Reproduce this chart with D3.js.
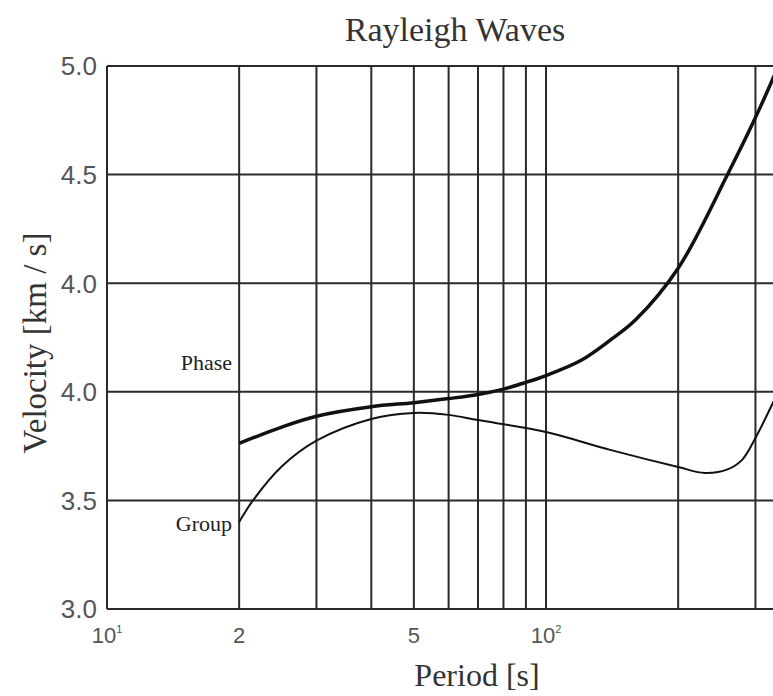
<!DOCTYPE html>
<html>
<head>
<meta charset="utf-8">
<script src="https://cdn.jsdelivr.net/npm/d3@7"></script>
<style>
  body { margin: 0; background: white; }
</style>
</head>
<body>
<div id="chart"></div>
<script>
// data
const phasePeriod = [20, 25, 30, 40, 50, 60, 70, 80, 90, 100, 120, 140, 160, 200, 260, 300, 330, 340];
const phaseVel    = [3.61, 3.67, 3.71, 3.745, 3.76, 3.775, 3.79, 3.81, 3.835, 3.86, 3.915, 3.99, 4.065, 4.255, 4.605, 4.81, 4.96, 5.01];

const groupPeriod = [20, 21.5, 25, 30, 40, 50, 60, 70, 100, 140, 200, 230, 260, 280, 300, 330];
const groupVel    = [3.32, 3.40, 3.525, 3.62, 3.70, 3.722, 3.715, 3.696, 3.652, 3.586, 3.523, 3.501, 3.515, 3.55, 3.63, 3.765];

const gridPeriods = [20, 30, 40, 50, 60, 70, 80, 90, 100, 200, 300];
const xTickValues = [10, 20, 50, 100];
const xTickLabels = [["10", "1"], ["2", ""], ["5", ""], ["10", "2"]];

const yTickValues = [3.0, 3.4, 3.8, 4.2, 4.6, 5.0];
const yTickLabels = ["3.0", "3.5", "4.0", "4.0", "4.5", "5.0"];

const W = 773, H = 696;
const plotL = 107, plotR = 773, plotT = 66, plotB = 609;

let svg = d3.select("#chart").append("svg")
    .attr("width", W)
    .attr("height", H);

const x = d3.scaleLog().domain([10, 100]).range([plotL, 546]);
const y = d3.scaleLinear().domain([3.0, 5.0]).range([plotB, plotT]);

const ink = "#2a2a2a";

// horizontal grid
svg.append("g").selectAll("line")
    .data(yTickValues)
    .enter().append("line")
    .attr("x1", plotL).attr("x2", plotR)
    .attr("y1", d => y(d)).attr("y2", d => y(d))
    .attr("stroke", ink)
    .attr("stroke-width", 2);

// vertical grid
svg.append("g").selectAll("line")
    .data(gridPeriods)
    .enter().append("line")
    .attr("x1", d => x(d)).attr("x2", d => x(d))
    .attr("y1", plotT).attr("y2", plotB)
    .attr("stroke", ink)
    .attr("stroke-width", 2);

// left axis line
svg.append("line")
    .attr("x1", plotL).attr("x2", plotL)
    .attr("y1", plotT).attr("y2", plotB)
    .attr("stroke", ink)
    .attr("stroke-width", 2);

// curves
svg.append("clipPath").attr("id", "plotClip")
    .append("rect")
    .attr("x", plotL).attr("y", plotT - 2)
    .attr("width", plotR - plotL + 10).attr("height", plotB - plotT + 4);

const line = d3.line()
    .x(d => x(d[0]))
    .y(d => y(d[1]))
    .curve(d3.curveCatmullRom.alpha(0.5));

svg.append("path")
    .attr("d", line(d3.zip(phasePeriod, phaseVel)))
    .attr("clip-path", "url(#plotClip)")
    .attr("fill", "none")
    .attr("stroke", "#111")
    .attr("stroke-width", 3.5);

svg.append("path")
    .attr("d", line(d3.zip(groupPeriod, groupVel)))
    .attr("clip-path", "url(#plotClip)")
    .attr("fill", "none")
    .attr("stroke", "#111")
    .attr("stroke-width", 2);

// y tick labels
svg.append("g").selectAll("text")
    .data(yTickValues)
    .enter().append("text")
    .attr("x", 97)
    .attr("y", d => y(d))
    .attr("dy", "0.36em")
    .attr("text-anchor", "end")
    .attr("font-family", "Liberation Sans, Arial, sans-serif")
    .attr("font-size", 26)
    .attr("fill", "#555")
    .text((d, i) => yTickLabels[i]);

// x tick labels
const xt = svg.append("g").selectAll("text")
    .data(xTickValues)
    .enter().append("text")
    .attr("x", d => x(d))
    .attr("y", 643)
    .attr("text-anchor", "middle")
    .attr("font-family", "Liberation Sans, Arial, sans-serif")
    .attr("font-size", 22)
    .attr("fill", "#555");

xt.append("tspan").text((d, i) => xTickLabels[i][0]);
xt.append("tspan")
    .attr("font-size", 11)
    .attr("dy", -10)
    .text((d, i) => xTickLabels[i][1]);

// titles
const serif = "Liberation Serif, Times New Roman, serif";

svg.append("text")
    .attr("x", 455).attr("y", 41)
    .attr("text-anchor", "middle")
    .attr("font-family", serif)
    .attr("font-size", 34)
    .attr("fill", "#333")
    .text("Rayleigh Waves");

svg.append("text")
    .attr("x", 477).attr("y", 686)
    .attr("text-anchor", "middle")
    .attr("font-family", serif)
    .attr("font-size", 32)
    .attr("fill", "#333")
    .text("Period [s]");

svg.append("text")
    .attr("transform", "translate(46,343) rotate(-90)")
    .attr("text-anchor", "middle")
    .attr("font-family", serif)
    .attr("font-size", 33)
    .attr("fill", "#333")
    .text("Velocity [km / s]");

// curve names
svg.append("text")
    .attr("x", 232).attr("y", 370)
    .attr("text-anchor", "end")
    .attr("font-family", serif)
    .attr("font-size", 22)
    .attr("fill", "#222")
    .text("Phase");

svg.append("text")
    .attr("x", 232).attr("y", 531)
    .attr("text-anchor", "end")
    .attr("font-family", serif)
    .attr("font-size", 22)
    .attr("fill", "#222")
    .text("Group");
</script>
</body>
</html>
